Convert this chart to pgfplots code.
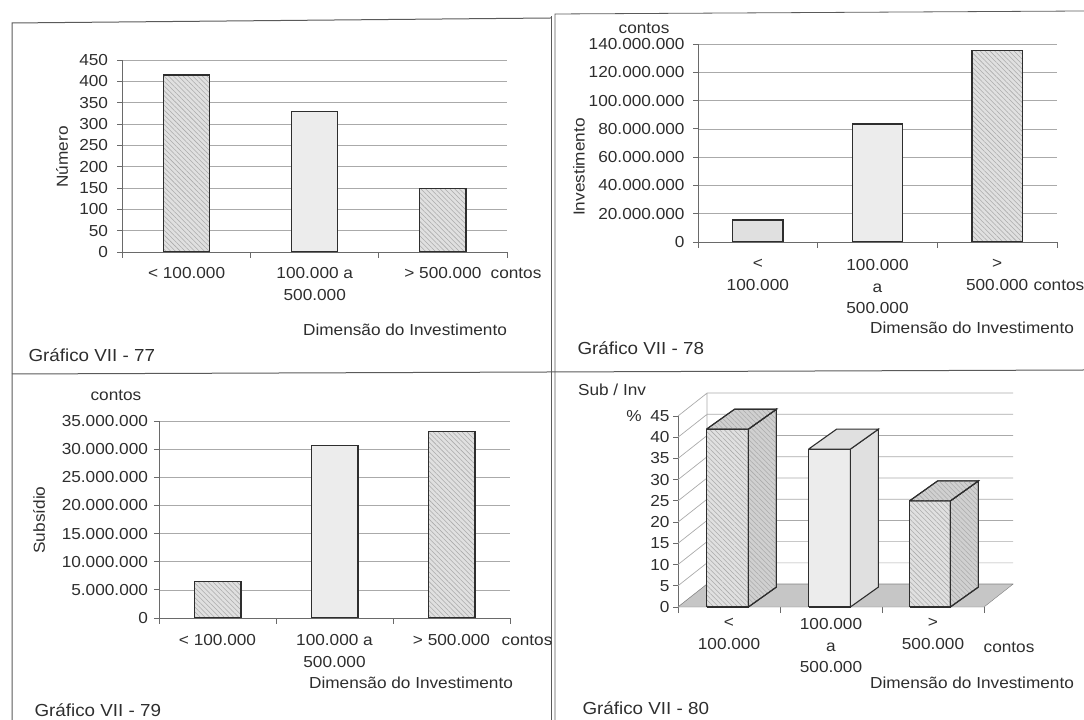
\documentclass[border=0pt]{standalone}
\usepackage{fontspec}
\setmainfont{Liberation Sans}[FakeStretch=1.08]
\usepackage{pgfplots}
\pgfplotsset{compat=1.18}
\usetikzlibrary{patterns.meta}

\definecolor{ink}{HTML}{2E2E2E}
\definecolor{gridc}{HTML}{AAAAAA}
\definecolor{axisc}{HTML}{6A6A6A}
\definecolor{barlight}{HTML}{ECECEC}
\definecolor{barmid}{HTML}{E0E0E0}
\definecolor{bardark}{HTML}{D0D0D0}
\definecolor{floorc}{HTML}{C6C6C6}
\definecolor{framec}{HTML}{5A5A5A}
\definecolor{hatchc}{HTML}{ABABAB}

\newcommand{\lbl}{\fontsize{16}{21.5}\selectfont}
\newcommand{\ttl}{\fontsize{17.5}{20}\selectfont}

\tikzset{
  hatched/.style={fill=#1, postaction={pattern={Lines[angle=-45,distance=3.4bp,line width=0.55bp]}, pattern color=hatchc}},
  hatched/.default=barmid,
}

\pgfplotsset{
  panel/.style={
    scale only axis, anchor=south west,
    xmin=0, xmax=3, ymin=0,
    enlargelimits=false,
    axis x line*=bottom, axis y line*=left,
    axis line style={draw=axisc, line width=0.9bp},
    ymajorgrids, grid style={draw=gridc, line width=0.7bp},
    tick align=outside,
    major tick length=5bp, minor tick length=6bp,
    tick style={draw=axisc, line width=0.9bp},
    xtick={0.5,1.5,2.5}, minor xtick={0,1,2,3},
    major x tick style={draw=none},
    xticklabel style={align=center, font=\lbl, text=ink, yshift=-7bp},
    yticklabel style={font=\lbl, text=ink},
    scaled y ticks=false,
    /pgf/number format/assume math mode=true,
    /pgf/number format/1000 sep={.},
  },
  colbar/.style={ybar, bar width=#1, bar shift=0pt, draw=ink, line width=1.2bp},
}

\begin{document}
\begin{tikzpicture}
\useasboundingbox (0,0) rectangle (1084bp,720bp);

% panel frames
\draw[framec, line width=1bp] (12bp,0) -- (12bp,697bp) -- (551bp,702bp);
\draw[framec, line width=1bp] (551bp,0) -- (551bp,704bp);
\draw[framec, line width=0.8bp] (555bp,0) -- (555bp,706bp) -- (1084bp,709bp);
\draw[framec, line width=1bp] (12bp,346bp) -- (1084bp,350bp);

% ---------- Grafico VII - 77
\begin{axis}[panel, at={(122.5bp,468bp)}, width=384.5bp, height=192bp,
  ymax=450, ytick={0,50,...,450},
  yticklabel style={xshift=-6bp},
  xticklabels={< 100.000, 100.000 a\\500.000, > 500.000}]
\addplot[colbar=0.36, hatched] coordinates {(0.5,415)};
\addplot[colbar=0.36, fill=barlight] coordinates {(1.5,330)};
\addplot[colbar=0.36, hatched] coordinates {(2.5,149)};
\end{axis}
\node[font=\lbl, text=ink, rotate=90] at (62bp,563bp) {Número};
\node[font=\lbl, text=ink] at (516bp,447bp) {contos};
\node[font=\lbl, text=ink] at (405bp,390bp) {Dimensão do Investimento};
\node[font=\ttl, text=ink, anchor=west] at (25bp,365bp) {Gráfico VII - 77};

% ---------- Grafico VII - 78
\begin{axis}[panel, at={(698bp,478bp)}, width=359bp, height=198bp,
  ymax=140000000,
  ytick={0,20000000,40000000,60000000,80000000,100000000,120000000,140000000},
  yticklabels={0,20.000.000,40.000.000,60.000.000,80.000.000,100.000.000,120.000.000,140.000.000},
  yticklabel style={xshift=-5bp},
  xticklabels={<\\100.000, 100.000\\a\\500.000, >\\500.000},
  xticklabel style={yshift=-2bp}]
\addplot[colbar=0.42, fill=barmid] coordinates {(0.5,15500000)};
\addplot[colbar=0.42, fill=barlight] coordinates {(1.5,83500000)};
\addplot[colbar=0.42, hatched] coordinates {(2.5,135500000)};
\end{axis}
\node[font=\lbl, text=ink] at (644bp,692bp) {contos};
\node[font=\lbl, text=ink, rotate=90] at (579bp,553bp) {Investimento};
\node[font=\lbl, text=ink, anchor=west] at (1030bp,435bp) {contos};
\node[font=\lbl, text=ink] at (972bp,392bp) {Dimensão do Investimento};
\node[font=\ttl, text=ink, anchor=west] at (574bp,372bp) {Gráfico VII - 78};

% ---------- Grafico VII - 79
\begin{axis}[panel, at={(159bp,102bp)}, width=351bp, height=197bp,
  ymax=35000000,
  ytick={0,5000000,10000000,15000000,20000000,25000000,30000000,35000000},
  yticklabels={0,5.000.000,10.000.000,15.000.000,20.000.000,25.000.000,30.000.000,35.000.000},
  yticklabel style={xshift=-2.5bp},
  xticklabels={< 100.000, 100.000 a\\500.000, > 500.000},
  xticklabel style={yshift=-1bp}]
\addplot[colbar=0.40, hatched] coordinates {(0.5,6500000)};
\addplot[colbar=0.40, fill=barlight] coordinates {(1.5,30600000)};
\addplot[colbar=0.40, hatched] coordinates {(2.5,33200000)};
\end{axis}
\node[font=\lbl, text=ink] at (116bp,325bp) {contos};
\node[font=\lbl, text=ink, rotate=90] at (39bp,200bp) {Subsídio};
\node[font=\lbl, text=ink] at (527bp,80bp) {contos};
\node[font=\lbl, text=ink] at (411bp,37bp) {Dimensão do Investimento};
\node[font=\ttl, text=ink, anchor=west] at (31bp,10bp) {Gráfico VII - 79};

% ---------- Grafico VII - 80 (3-D columns)
\begin{axis}[panel, at={(678bp,113bp)}, width=306bp, height=191bp,
  ymax=45, ytick={0,5,...,45}, ymajorgrids=false, clip=false,
  x axis line style={draw=none},
  yticklabel style={xshift=0bp},
  xticklabels={<\\100.000, 100.000\\a\\500.000, >\\500.000},
  xticklabel style={yshift=4bp}]
% side and back walls
\addplot[draw=gridc, line width=0.7bp, unbounded coords=jump] coordinates {
  (0,0) (0.285,5.4) (3.285,5.4) (nan,nan)
  (0,5) (0.285,10.4) (3.285,10.4) (nan,nan)
  (0,10) (0.285,15.4) (3.285,15.4) (nan,nan)
  (0,15) (0.285,20.4) (3.285,20.4) (nan,nan)
  (0,20) (0.285,25.4) (3.285,25.4) (nan,nan)
  (0,25) (0.285,30.4) (3.285,30.4) (nan,nan)
  (0,30) (0.285,35.4) (3.285,35.4) (nan,nan)
  (0,35) (0.285,40.4) (3.285,40.4) (nan,nan)
  (0,40) (0.285,45.4) (3.285,45.4) (nan,nan)
  (0,45) (0.285,50.4) (3.285,50.4) (nan,nan)
  (0.285,5.4) (0.285,50.4)
};
% floor
\addplot[fill=floorc, draw=gray] coordinates {(0,0) (3,0) (3.285,5.4) (0.285,5.4) (0,0)};
% < 100.000
\addplot[hatched=barmid, draw=ink, line width=1.1bp] coordinates {(0.28,0) (0.69,0) (0.69,41.9) (0.28,41.9) (0.28,0)};
\addplot[hatched=bardark, draw=ink, line width=1.1bp] coordinates {(0.69,0) (0.965,4.7) (0.965,46.6) (0.69,41.9) (0.69,0)};
\addplot[hatched=bardark, draw=ink, line width=1.1bp] coordinates {(0.28,41.9) (0.69,41.9) (0.965,46.6) (0.555,46.6) (0.28,41.9)};
% 100.000 a 500.000
\addplot[fill=barlight, draw=ink, line width=1.1bp] coordinates {(1.28,0) (1.69,0) (1.69,37.2) (1.28,37.2) (1.28,0)};
\addplot[fill=barmid, draw=ink, line width=1.1bp] coordinates {(1.69,0) (1.965,4.7) (1.965,41.9) (1.69,37.2) (1.69,0)};
\addplot[fill=barmid, draw=ink, line width=1.1bp] coordinates {(1.28,37.2) (1.69,37.2) (1.965,41.9) (1.555,41.9) (1.28,37.2)};
% > 500.000
\addplot[hatched=barmid, draw=ink, line width=1.1bp] coordinates {(2.27,0) (2.67,0) (2.67,25.0) (2.27,25.0) (2.27,0)};
\addplot[hatched=bardark, draw=ink, line width=1.1bp] coordinates {(2.67,0) (2.945,4.7) (2.945,29.7) (2.67,25.0) (2.67,0)};
\addplot[hatched=bardark, draw=ink, line width=1.1bp] coordinates {(2.27,25.0) (2.67,25.0) (2.945,29.7) (2.545,29.7) (2.27,25.0)};
\end{axis}
\node[font=\lbl, text=ink] at (612bp,330bp) {Sub / Inv};
\node[font=\lbl, text=ink] at (634bp,304bp) {\%};
\node[font=\lbl, text=ink] at (1009bp,73bp) {contos};
\node[font=\lbl, text=ink] at (972bp,37bp) {Dimensão do Investimento};
\node[font=\ttl, text=ink, anchor=west] at (579bp,12bp) {Gráfico VII - 80};
\end{tikzpicture}
\end{document}
